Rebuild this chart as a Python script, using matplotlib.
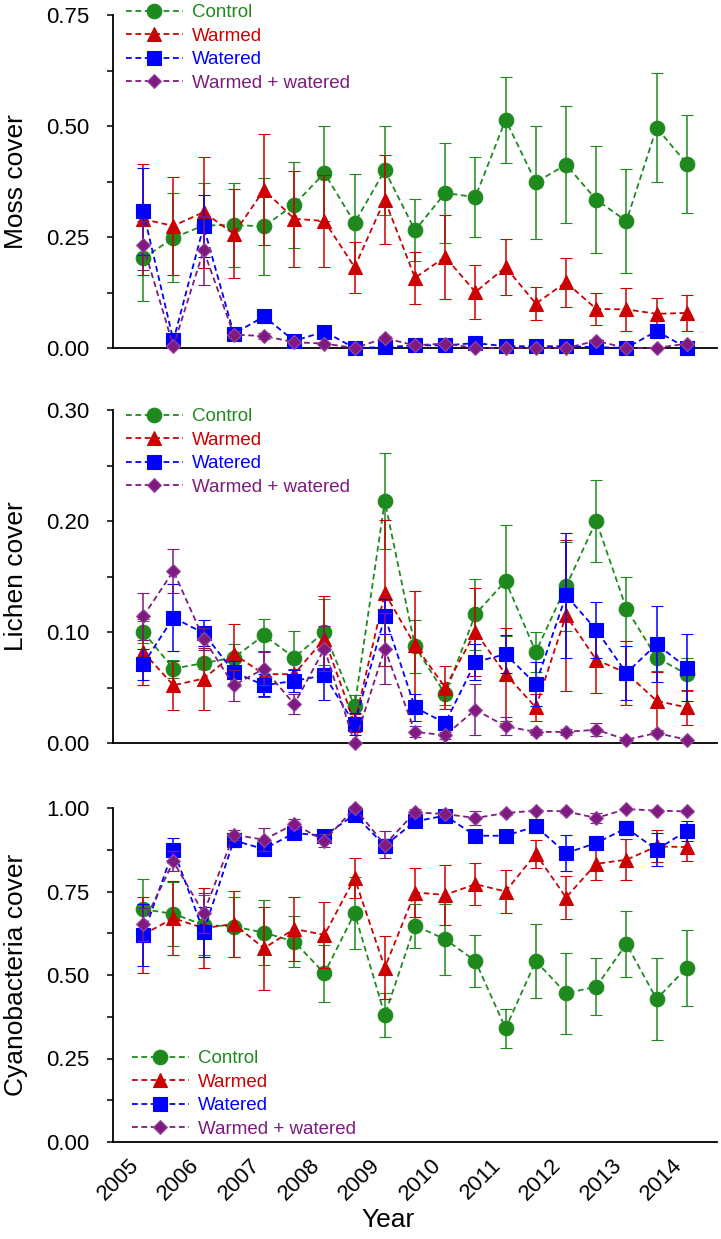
import matplotlib
matplotlib.use("Agg")
import matplotlib.pyplot as plt
import numpy as np
from matplotlib.ticker import MultipleLocator, FormatStrFormatter

plt.rcParams['font.family'] = ['Liberation Sans', 'DejaVu Sans']

# x: sampling times (half-year steps)
times = [2005.0, 2005.5, 2006.0, 2006.5, 2007.0, 2007.5, 2008.0, 2008.5, 2009.0, 2009.5,
         2010.0, 2010.5, 2011.0, 2011.5, 2012.0, 2012.5, 2013.0, 2013.5, 2014.0]
year_ticks = [2005, 2006, 2007, 2008, 2009, 2010, 2011, 2012, 2013, 2014]
series_names = ["Control", "Warmed", "Watered", "Warmed + watered"]

# ---- Moss cover ----
moss_control = [0.202, 0.248, 0.276, 0.277, 0.274, 0.323, 0.394, 0.282, 0.400, 0.265,
                0.349, 0.340, 0.514, 0.373, 0.413, 0.334, 0.286, 0.496, 0.415]
moss_control_err = [0.097, 0.100, 0.095, 0.095, 0.110, 0.097, 0.107, 0.110, 0.100, 0.070,
                    0.113, 0.090, 0.097, 0.127, 0.132, 0.121, 0.117, 0.123, 0.110]
moss_warmed = [0.290, 0.275, 0.306, 0.257, 0.356, 0.291, 0.286, 0.182, 0.334, 0.158,
               0.205, 0.126, 0.182, 0.100, 0.148, 0.088, 0.087, 0.077, 0.079]
moss_warmed_err = [0.125, 0.110, 0.125, 0.100, 0.125, 0.108, 0.104, 0.057, 0.100, 0.058,
                   0.095, 0.060, 0.063, 0.038, 0.055, 0.037, 0.048, 0.035, 0.040]
moss_watered = [0.308, 0.017, 0.274, 0.032, 0.071, 0.016, 0.037, 0.000, 0.002, 0.006,
                0.006, 0.011, 0.004, 0.004, 0.004, 0.002, 0.000, 0.038, 0.000]
moss_watered_err = [0.098, 0.010, 0.070, 0.008, 0.015, 0.005, 0.008, 0.001, 0.002, 0.003,
                    0.003, 0.004, 0.002, 0.002, 0.002, 0.001, 0.001, 0.010, 0.001]
moss_ww = [0.231, 0.004, 0.220, 0.030, 0.027, 0.013, 0.010, 0.000, 0.022, 0.006,
           0.010, 0.000, 0.000, 0.000, 0.000, 0.016, 0.000, 0.000, 0.010]
moss_ww_err = [0.055, 0.003, 0.077, 0.008, 0.006, 0.004, 0.004, 0.001, 0.006, 0.003,
               0.004, 0.001, 0.001, 0.001, 0.001, 0.005, 0.001, 0.001, 0.004]

# ---- Lichen cover ----
lichen_control = [0.100, 0.067, 0.072, 0.077, 0.097, 0.077, 0.100, 0.033, 0.218, 0.087,
                  0.044, 0.116, 0.146, 0.082, 0.141, 0.200, 0.121, 0.077, 0.062]
lichen_control_err = [0.010, 0.008, 0.005, 0.012, 0.015, 0.024, 0.030, 0.010, 0.043, 0.024,
                      0.010, 0.032, 0.050, 0.018, 0.040, 0.037, 0.029, 0.012, 0.015]
lichen_warmed = [0.082, 0.052, 0.058, 0.080, 0.062, 0.062, 0.094, 0.018, 0.135, 0.088,
                 0.050, 0.100, 0.062, 0.032, 0.115, 0.075, 0.063, 0.038, 0.032]
lichen_warmed_err = [0.030, 0.022, 0.028, 0.027, 0.021, 0.005, 0.038, 0.008, 0.066, 0.049,
                     0.019, 0.040, 0.042, 0.012, 0.068, 0.030, 0.029, 0.026, 0.016]
lichen_watered = [0.071, 0.113, 0.099, 0.064, 0.052, 0.056, 0.061, 0.017, 0.114, 0.032,
                  0.018, 0.073, 0.080, 0.053, 0.133, 0.102, 0.063, 0.089, 0.068]
lichen_watered_err = [0.014, 0.030, 0.012, 0.010, 0.010, 0.010, 0.022, 0.010, 0.016, 0.012,
                      0.005, 0.016, 0.017, 0.020, 0.056, 0.025, 0.024, 0.034, 0.030]
lichen_ww = [0.114, 0.155, 0.094, 0.052, 0.067, 0.035, 0.085, 0.000, 0.085, 0.010,
             0.007, 0.030, 0.015, 0.010, 0.010, 0.012, 0.003, 0.009, 0.003]
lichen_ww_err = [0.021, 0.020, 0.010, 0.014, 0.015, 0.009, 0.020, 0.001, 0.032, 0.005,
                 0.003, 0.023, 0.008, 0.003, 0.003, 0.006, 0.001, 0.002, 0.001]

# ---- Cyanobacteria cover ----
cyano_control = [0.697, 0.683, 0.650, 0.645, 0.627, 0.600, 0.505, 0.685, 0.380, 0.648,
                 0.607, 0.542, 0.340, 0.542, 0.445, 0.465, 0.593, 0.428, 0.522]
cyano_control_err = [0.090, 0.095, 0.090, 0.090, 0.098, 0.077, 0.085, 0.108, 0.067, 0.066,
                     0.107, 0.078, 0.058, 0.112, 0.122, 0.085, 0.100, 0.123, 0.114]
cyano_warmed = [0.621, 0.670, 0.640, 0.653, 0.580, 0.638, 0.620, 0.790, 0.522, 0.747,
                0.740, 0.772, 0.750, 0.863, 0.732, 0.833, 0.845, 0.885, 0.883]
cyano_warmed_err = [0.114, 0.110, 0.120, 0.098, 0.125, 0.096, 0.100, 0.060, 0.095, 0.073,
                    0.090, 0.062, 0.063, 0.042, 0.064, 0.050, 0.062, 0.048, 0.043]
cyano_watered = [0.620, 0.875, 0.630, 0.903, 0.877, 0.925, 0.917, 0.980, 0.887, 0.960,
                 0.977, 0.917, 0.917, 0.945, 0.865, 0.895, 0.940, 0.875, 0.932]
cyano_watered_err = [0.093, 0.035, 0.075, 0.020, 0.015, 0.010, 0.015, 0.010, 0.020, 0.010,
                     0.010, 0.010, 0.010, 0.020, 0.055, 0.020, 0.020, 0.049, 0.030]
cyano_ww = [0.652, 0.840, 0.685, 0.920, 0.905, 0.952, 0.902, 1.000, 0.890, 0.987,
            0.982, 0.970, 0.985, 0.992, 0.990, 0.970, 0.997, 0.992, 0.990]
cyano_ww_err = [0.050, 0.030, 0.060, 0.015, 0.035, 0.015, 0.020, 0.005, 0.040, 0.010,
                0.010, 0.020, 0.005, 0.005, 0.005, 0.015, 0.003, 0.005, 0.005]

colors = ['#1E8A1E', '#CC0000', '#0000FF', '#7F1A7F']
edge_colors = ['#1E8A1E', '#CC0000', '#0000FF', '#9A4AA6']
markers = ['o', '^', 's', 'D']
msizes = [10.5, 10.5, 10.5, 7.5]

W, H = 721, 1239
fig = plt.figure(figsize=(W / 100, H / 100), dpi=100)

def axrect(left, right, top, bottom):
    return [left / W, 1 - bottom / H, (right - left) / W, (bottom - top) / H]

panels = [
    dict(rect=axrect(113, 717, 15, 348), ylim=(0, 0.75), major=0.25, ylabel='Moss cover',
         data=[(moss_control, moss_control_err), (moss_warmed, moss_warmed_err),
               (moss_watered, moss_watered_err), (moss_ww, moss_ww_err)],
         leg=dict(loc='upper left', bbox_to_anchor=(0.022, 1.032))),
    dict(rect=axrect(113, 717, 410, 743), ylim=(0, 0.30), major=0.10, ylabel='Lichen cover',
         data=[(lichen_control, lichen_control_err), (lichen_warmed, lichen_warmed_err),
               (lichen_watered, lichen_watered_err), (lichen_ww, lichen_ww_err)],
         leg=dict(loc='upper left', bbox_to_anchor=(0.022, 1.005))),
    dict(rect=axrect(113, 717, 808, 1142), ylim=(0, 1.0), major=0.25, ylabel='Cyanobacteria cover',
         data=[(cyano_control, cyano_control_err), (cyano_warmed, cyano_warmed_err),
               (cyano_watered, cyano_watered_err), (cyano_ww, cyano_ww_err)],
         leg=dict(loc='lower left', bbox_to_anchor=(0.032, 0.012))),
]

for pi, p in enumerate(panels):
    ax = fig.add_axes(p['rect'])
    handles = []
    for si, (vals, errs) in enumerate(p['data']):
        eb = ax.errorbar(times, vals, yerr=errs, color=colors[si], ecolor=colors[si],
                         elinewidth=1.1, capsize=4.3, capthick=1.1,
                         linestyle=(0, (3.2, 2.0)), linewidth=1.3,
                         marker=markers[si], markersize=msizes[si],
                         markerfacecolor=colors[si], markeredgecolor=edge_colors[si],
                         markeredgewidth=0.8, zorder=3 + si, clip_on=False)
        handles.append(eb.lines[0])
    ax.set_xlim(2004.5, 2014.5)
    ax.set_ylim(*p['ylim'])
    ax.yaxis.set_major_locator(MultipleLocator(p['major']))
    ax.yaxis.set_minor_locator(MultipleLocator(p['major'] / 2))
    ax.yaxis.set_major_formatter(FormatStrFormatter('%.2f'))
    ax.spines['top'].set_visible(False)
    ax.spines['right'].set_visible(False)
    ax.spines['left'].set_linewidth(1.3)
    ax.spines['bottom'].set_linewidth(1.3)
    ax.tick_params(axis='y', which='major', direction='out', length=4, width=1.1,
                   labelsize=16, pad=13)
    ax.tick_params(axis='y', which='minor', direction='out', length=4, width=1.1)
    ax.set_xticks(year_ticks)
    if pi < 2:
        ax.tick_params(axis='x', which='both', length=0, labelbottom=False)
    else:
        ax.tick_params(axis='x', which='both', length=0, labelsize=16, pad=9)
        ax.set_xticklabels([str(y) for y in year_ticks], rotation=45, ha='right')
        ax.set_xlabel('Year', fontsize=19)
        ax.xaxis.set_label_coords(0.455, -0.198)
    ax.set_ylabel(p['ylabel'], fontsize=19)
    ax.yaxis.set_label_coords(-0.14, 0.5)
    leg = ax.legend(handles, series_names, frameon=False, fontsize=13.5,
                    handlelength=3.0, handletextpad=0.5, labelspacing=0.34,
                    borderpad=0, borderaxespad=0, **p['leg'])
    for txt, c in zip(leg.get_texts(), colors):
        txt.set_color(c)

fig.savefig('out.png', dpi=100)
